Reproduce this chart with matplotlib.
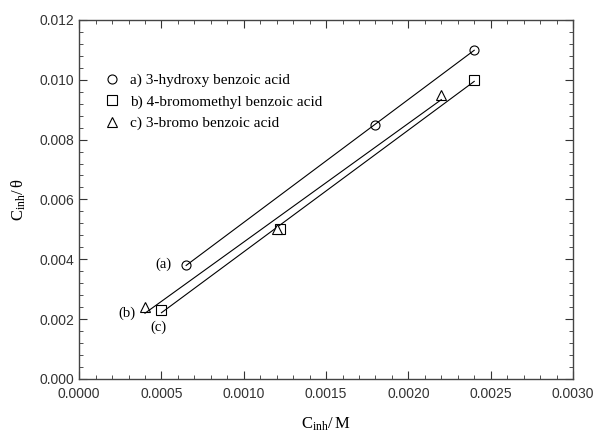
import numpy as np
import matplotlib
matplotlib.use('Agg')
import matplotlib.pyplot as plt
from matplotlib.ticker import MultipleLocator, FormatStrFormatter

plt.rcParams['font.family'] = ['Liberation Sans', 'DejaVu Sans']
plt.rcParams['mathtext.fontset'] = 'custom'
plt.rcParams['mathtext.rm'] = 'Liberation Serif'
plt.rcParams['mathtext.it'] = 'Liberation Serif:italic'

# data
x_a = [0.00065, 0.0018, 0.0024]
y_a = [0.0038, 0.0085, 0.0110]
x_b = [0.0005, 0.00122, 0.0024]
y_b = [0.0023, 0.0050, 0.0100]
x_c = [0.0004, 0.0012, 0.0022]
y_c = [0.0024, 0.0050, 0.0095]
labels = ['a) 3-hydroxy benzoic acid', 'b) 4-bromomethyl benzoic acid', 'c) 3-bromo benzoic acid']

fig = plt.figure(figsize=(5.95, 4.34), dpi=100)
ax = fig.add_axes([0.133, 0.127, 0.830, 0.827])

series = [(x_a, y_a, 'o'), (x_b, y_b, 's'), (x_c, y_c, '^')]
for (xs, ys, m), lab in zip(series, labels):
    ax.plot(xs, ys, m, mfc='white', mec='black', mew=0.8, ms=6.5, ls='none', label=lab)
    # fitted straight line through the points
    k, b = np.polyfit(xs, ys, 1)
    xx = np.array([min(xs), max(xs)])
    ax.plot(xx, k * xx + b, color='black', lw=0.8)

serif = 'Liberation Serif'
ax.text(0.00051, 0.00384, '(a)', fontsize=10.5, family=serif, ha='center', va='center')
ax.text(0.00029, 0.0022, '(b)', fontsize=10.5, family=serif, ha='center', va='center')
ax.text(0.00048, 0.00174, '(c)', fontsize=10.5, family=serif, ha='center', va='center')

ax.set_xlim(0, 0.003)
ax.set_ylim(0, 0.012)
ax.xaxis.set_major_locator(MultipleLocator(0.0005))
ax.xaxis.set_minor_locator(MultipleLocator(0.0001))
ax.yaxis.set_major_locator(MultipleLocator(0.002))
ax.yaxis.set_minor_locator(MultipleLocator(0.0004))
ax.xaxis.set_major_formatter(FormatStrFormatter('%.4f'))
ax.yaxis.set_major_formatter(FormatStrFormatter('%.3f'))
for s in ax.spines.values():
    s.set_color('#444444')
    s.set_linewidth(1.0)
ax.tick_params(which='both', direction='in', top=True, right=True, labelsize=10, colors='#333333')
ax.tick_params(which='major', length=6)
ax.tick_params(which='minor', length=3)
ax.tick_params(axis='x', pad=6)

ax.set_xlabel(r'$\mathrm{C_{inh}/\,M}$', fontsize=12, labelpad=10)
ax.set_ylabel(r'$\mathrm{C_{inh}/\,\theta}$', fontsize=12, labelpad=8)

leg = ax.legend(loc='upper left', bbox_to_anchor=(0.02, 0.89), frameon=False,
                prop={'family': serif, 'size': 11}, handletextpad=0.6,
                labelspacing=0.5, handlelength=1.2)

fig.savefig('out.png', dpi=100)
